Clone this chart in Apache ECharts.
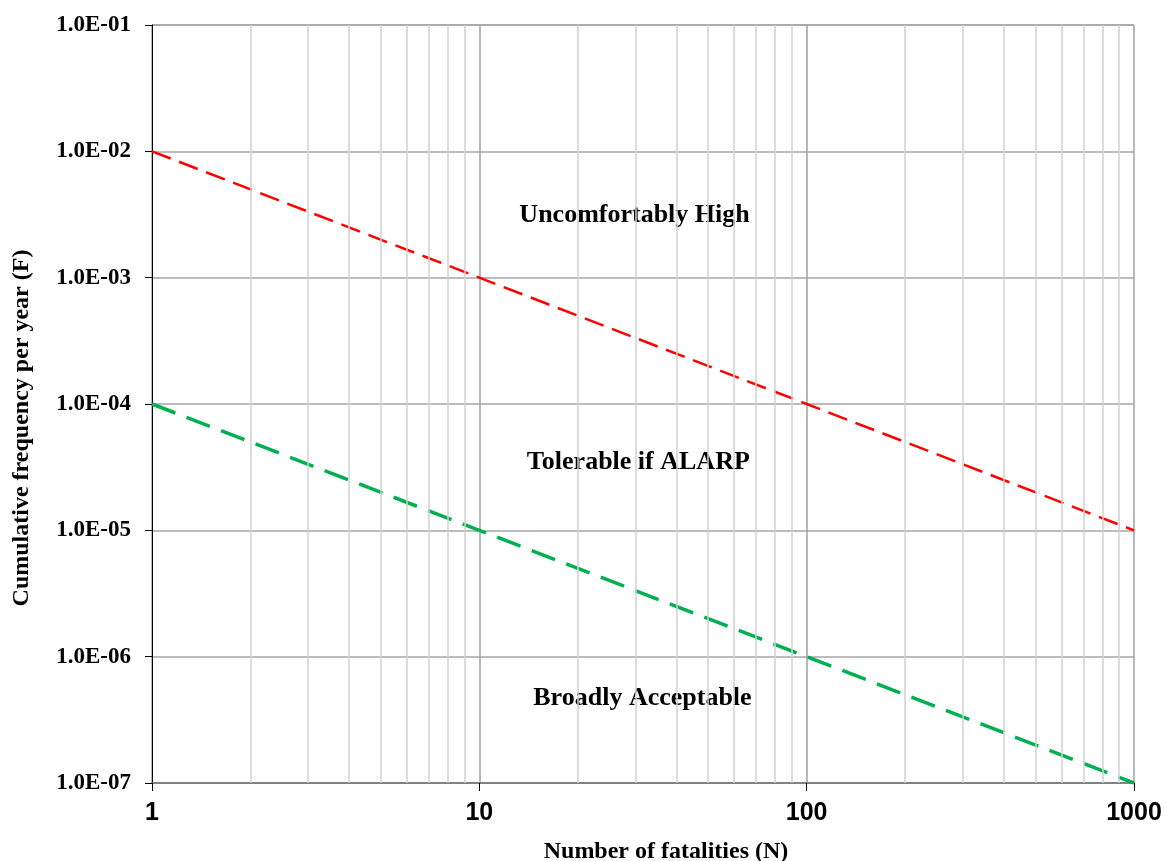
<!DOCTYPE html>
<html>
<head>
<meta charset="utf-8">
<script src="https://cdn.jsdelivr.net/npm/echarts@6/dist/echarts.min.js"></script>
<style>
  html, body { margin: 0; padding: 0; background: #fff; overflow: hidden; }
  #fn { width: 1166px; height: 861px; }
</style>
</head>
<body>
<div id="fn"></div>
<script>
// F-N criterion lines
var upperLine = [[1, 1e-2], [10, 1e-3], [100, 1e-4], [1000, 1e-5]];
var lowerLine = [[1, 1e-4], [10, 1e-5], [100, 1e-6], [1000, 1e-7]];

// minor vertical grid values (2..9 per decade)
var minorX = [2, 3, 4, 5, 6, 7, 8, 9, 20, 30, 40, 50, 60, 70, 80, 90, 200, 300, 400, 500, 600, 700, 800, 900];

// region labels, placed by data coordinates
var regionNames = ['Uncomfortably High', 'Tolerable if ALARP', 'Broadly Acceptable'];
var regionN = [29.8, 30.6, 31.5];
var regionF = [3.13e-3, 3.47e-5, 4.71e-7];

var chart = echarts.init(document.getElementById('fn'));

// 1.0E-01 style
function sci(v) {
  var e = Math.round(Math.log10(v));
  var m = v / Math.pow(10, e);
  var a = Math.abs(e);
  return m.toFixed(1) + 'E' + (e < 0 ? '-' : '+') + (a < 10 ? '0' + a : a);
}

var serif = '"Liberation Serif", "Times New Roman", serif';

chart.setOption({
  animation: false,
  grid: { left: 152, right: 32, top: 25, bottom: 78, containLabel: false, outerBoundsMode: 'none' },
  xAxis: {
    type: 'log',
    logBase: 10,
    min: 1,
    max: 1000,
    interval: 1,
    name: 'Number of fatalities (N)',
    nameLocation: 'middle',
    nameGap: 57,
    nameTextStyle: { fontFamily: serif, fontWeight: 'bold', fontSize: 24, color: '#000', padding: [0, 0, 0, 46] },
    axisLine: { show: true, lineStyle: { color: '#6e6e6e', width: 1.5 } },
    axisTick: { show: true, length: 8, lineStyle: { color: '#000' } },
    axisLabel: {
      fontFamily: '"Liberation Sans", Arial, sans-serif', fontWeight: 'bold', fontSize: 25, color: '#000', margin: 18,
      formatter: function (v) { return String(Math.round(v)); }
    },
    splitLine: { show: true, lineStyle: { color: '#a0a0a0', width: 1.5 } }
  },
  yAxis: {
    type: 'log',
    logBase: 10,
    min: 1e-7,
    max: 1e-1,
    interval: 1,
    name: 'Cumulative frequency per year (F)',
    nameLocation: 'middle',
    nameGap: 118,
    nameTextStyle: { fontFamily: serif, fontWeight: 'bold', fontSize: 24, color: '#000', padding: [0, 48, 0, 0] },
    axisLine: { show: true, lineStyle: { color: '#000', width: 1 } },
    axisTick: { show: true, length: 7, lineStyle: { color: '#000' } },
    axisLabel: { fontFamily: serif, fontWeight: 'bold', fontSize: 23, color: '#000', margin: 21, formatter: sci },
    splitLine: { show: true, lineStyle: { color: '#a6a6a6', width: 1.5 } }
  },
  series: [
    {
      type: 'line',
      data: [],
      z: 1,
      silent: true,
      markLine: {
        silent: true,
        symbol: ['none', 'none'],
        label: { show: false },
        lineStyle: { type: 'solid', color: '#d0d0d0', width: 1.5 },
        data: minorX.map(function (v) { return { xAxis: v }; })
      }
    },
    {
      type: 'line',
      data: upperLine,
      showSymbol: false,
      symbol: 'none',
      z: 3,
      lineStyle: { color: '#ff0000', width: 2.5, type: [20, 9] }
    },
    {
      type: 'line',
      data: lowerLine,
      showSymbol: false,
      symbol: 'none',
      z: 3,
      lineStyle: { color: '#00b050', width: 3.5, type: [25, 12] }
    },
    {
      type: 'scatter',
      symbolSize: 0,
      z: 4,
      silent: true,
      itemStyle: { opacity: 1 },
      data: regionNames.map(function (n, i) { return { name: n, value: [regionN[i], regionF[i]] }; }),
      label: {
        show: true,
        position: 'inside',
        formatter: '{b}',
        fontFamily: serif,
        fontWeight: 'bold',
        fontSize: 26,
        color: '#000',
        opacity: 1,
        textBorderWidth: 0
      }
    }
  ]
});
</script>
</body>
</html>
